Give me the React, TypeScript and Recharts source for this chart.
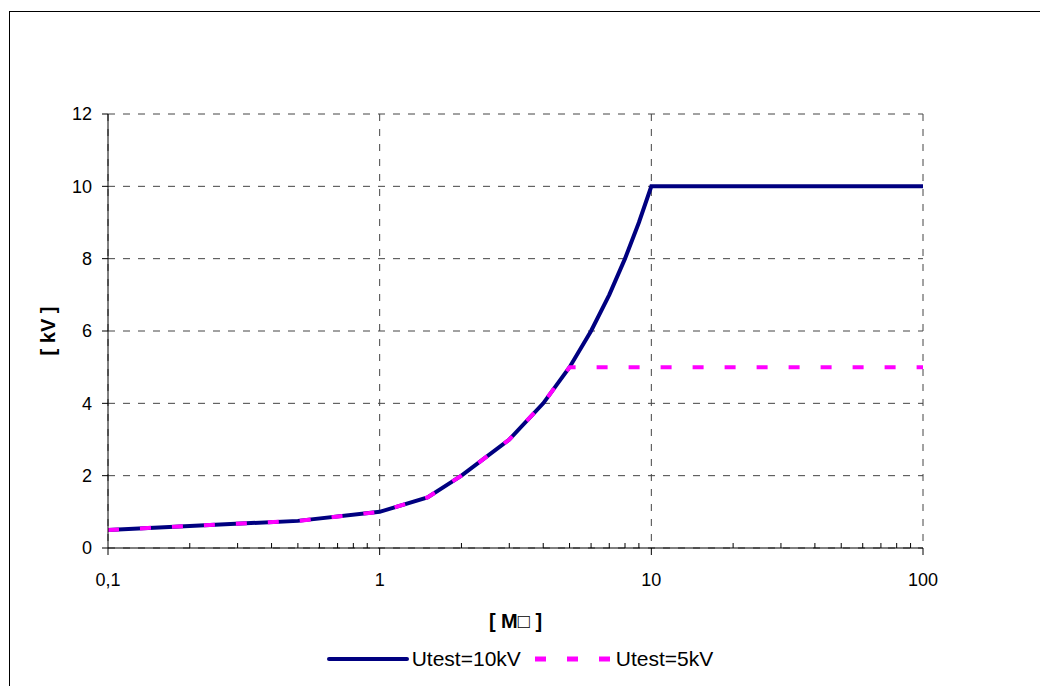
import { CartesianGrid, Label, Legend, Line, LineChart, XAxis, YAxis } from 'recharts'

// resistance [MOhm] vs test voltage [kV]
const R_10KV = [0.1, 0.5, 1, 1.5, 2, 3, 4, 5, 6, 7, 8, 9, 10, 100]
const U_10KV = [0.5, 0.75, 1, 1.4, 2, 3, 4, 5, 6, 7, 8, 9, 10, 10]
const R_5KV = [0.1, 0.5, 1, 1.5, 2, 3, 4, 5, 100]
const U_5KV = [0.5, 0.75, 1, 1.4, 2, 3, 4, 5, 5]

const X_MAJOR = [0.1, 1, 10, 100]
const X_MINOR = [0.2, 0.3, 0.4, 0.5, 0.6, 0.7, 0.8, 0.9, 2, 3, 4, 5, 6, 7, 8, 9, 20, 30, 40, 50, 60, 70, 80, 90]
const Y_TICKS = [0, 2, 4, 6, 8, 10, 12]

const FONT = 'Arial, "Liberation Sans", sans-serif'

const data10 = R_10KV.map((r, i) => ({ r, u: U_10KV[i] }))
const data5 = R_5KV.map((r, i) => ({ r, u: U_5KV[i] }))

const fmtX = (v: number) => String(v).replace('.', ',')

function XTick({ x, y, payload }: any) {
  const v = payload.value
  if (!X_MAJOR.includes(v)) {
    return <line x1={x} y1={y} x2={x} y2={y - 5} stroke="#000" strokeWidth={1} />
  }
  return (
    <g>
      <line x1={x} y1={y} x2={x} y2={y + 7} stroke="#000" strokeWidth={1} />
      <text x={x} y={y + 25} dy="0.71em" textAnchor="middle" fontSize={18} fill="#000" fontFamily={FONT}>
        {fmtX(v)}
      </text>
    </g>
  )
}

function YTitle({ viewBox }: any) {
  const cx = viewBox.x - 0.5
  const cy = viewBox.y + viewBox.height / 2
  return (
    <text
      x={cx}
      y={cy}
      transform={`rotate(-90 ${cx} ${cy})`}
      textAnchor="middle"
      dominantBaseline="central"
      fontSize={20}
      fontWeight="bold"
      fontFamily={FONT}
      fill="#000"
    >
      [ kV ]
    </text>
  )
}

function XTitle({ viewBox }: any) {
  const cx = viewBox.x + viewBox.width / 2
  const cy = viewBox.y + 73
  return (
    <text x={cx} y={cy} textAnchor="middle" dominantBaseline="central" fontSize={20} fontWeight="bold" fontFamily={FONT} fill="#000">
      [ M□ ]
    </text>
  )
}

function LegendContent({ payload }: any) {
  return (
    <div style={{ display: 'flex', justifyContent: 'center', alignItems: 'center', fontFamily: FONT, fontSize: 21, color: '#000' }}>
      {(payload || []).map((entry: any, i: number) => {
        const dash = entry.payload?.strokeDasharray
        return (
          <span key={entry.value} style={{ display: 'inline-flex', alignItems: 'center', marginLeft: i > 0 ? 14 : 0 }}>
            <svg width={dash ? 75 : 82} height={10} style={{ marginRight: dash ? 6 : 3 }}>
              <line
                x1={dash ? 0 : 2}
                y1={5}
                x2={dash ? 75 : 80}
                y2={5}
                stroke={entry.color}
                strokeWidth={dash ? 5 : 4}
                strokeLinecap={dash ? 'butt' : 'round'}
                strokeDasharray={dash}
              />
            </svg>
            {entry.value}
          </span>
        )
      })}
    </div>
  )
}

export default function App() {
  return (
    <div style={{ position: 'absolute', left: 0, top: 0, width: 1040, height: 686, overflow: 'hidden', background: '#fff' }}>
      <div
        style={{
          position: 'absolute',
          left: 9,
          top: 11,
          width: 1031,
          height: 675,
          borderLeft: '1px solid #000',
          borderTop: '1px solid #000',
        }}
      />
      <LineChart width={1040} height={686} margin={{ top: 114, right: 117, bottom: 98, left: 48 }} style={{ position: 'absolute', left: 0, top: 0 }}>
        <CartesianGrid
          stroke="#444"
          strokeDasharray="7 8"
          verticalValues={X_MAJOR}
          horizontalValues={Y_TICKS}
        />
        <XAxis
          type="number"
          dataKey="r"
          scale="log"
          domain={[0.1, 100]}
          allowDataOverflow
          ticks={[...X_MAJOR, ...X_MINOR]}
          interval={0}
          tickLine={false}
          tickSize={0}
          tickMargin={0}
          tick={<XTick />}
          axisLine={{ stroke: '#000', strokeWidth: 1 }}
          height={40}
        >
          <Label content={<XTitle />} />
        </XAxis>
        <YAxis
          type="number"
          domain={[0, 12]}
          ticks={Y_TICKS}
          interval={0}
          width={60}
          tickSize={6}
          tickMargin={10}
          tickLine={{ stroke: '#000' }}
          axisLine={{ stroke: '#000', strokeWidth: 1 }}
          tick={{ fill: '#000', fontSize: 18, fontFamily: FONT }}
        >
          <Label content={<YTitle />} />
        </YAxis>
        <Legend
          layout="horizontal"
          verticalAlign="middle"
          align="center"
          wrapperStyle={{ top: 647, left: 0, width: 1040, height: 24 }}
          content={<LegendContent />}
        />
        <Line
          data={data10}
          dataKey="u"
          name="Utest=10kV"
          type="linear"
          stroke="#000080"
          strokeWidth={4}
          dot={false}
          activeDot={false}
          isAnimationActive={false}
        />
        <Line
          data={data5}
          dataKey="u"
          name="Utest=5kV"
          type="linear"
          stroke="#FF00FF"
          strokeWidth={4}
          strokeDasharray="11 21"
          dot={false}
          activeDot={false}
          isAnimationActive={false}
        />
      </LineChart>
    </div>
  )
}
